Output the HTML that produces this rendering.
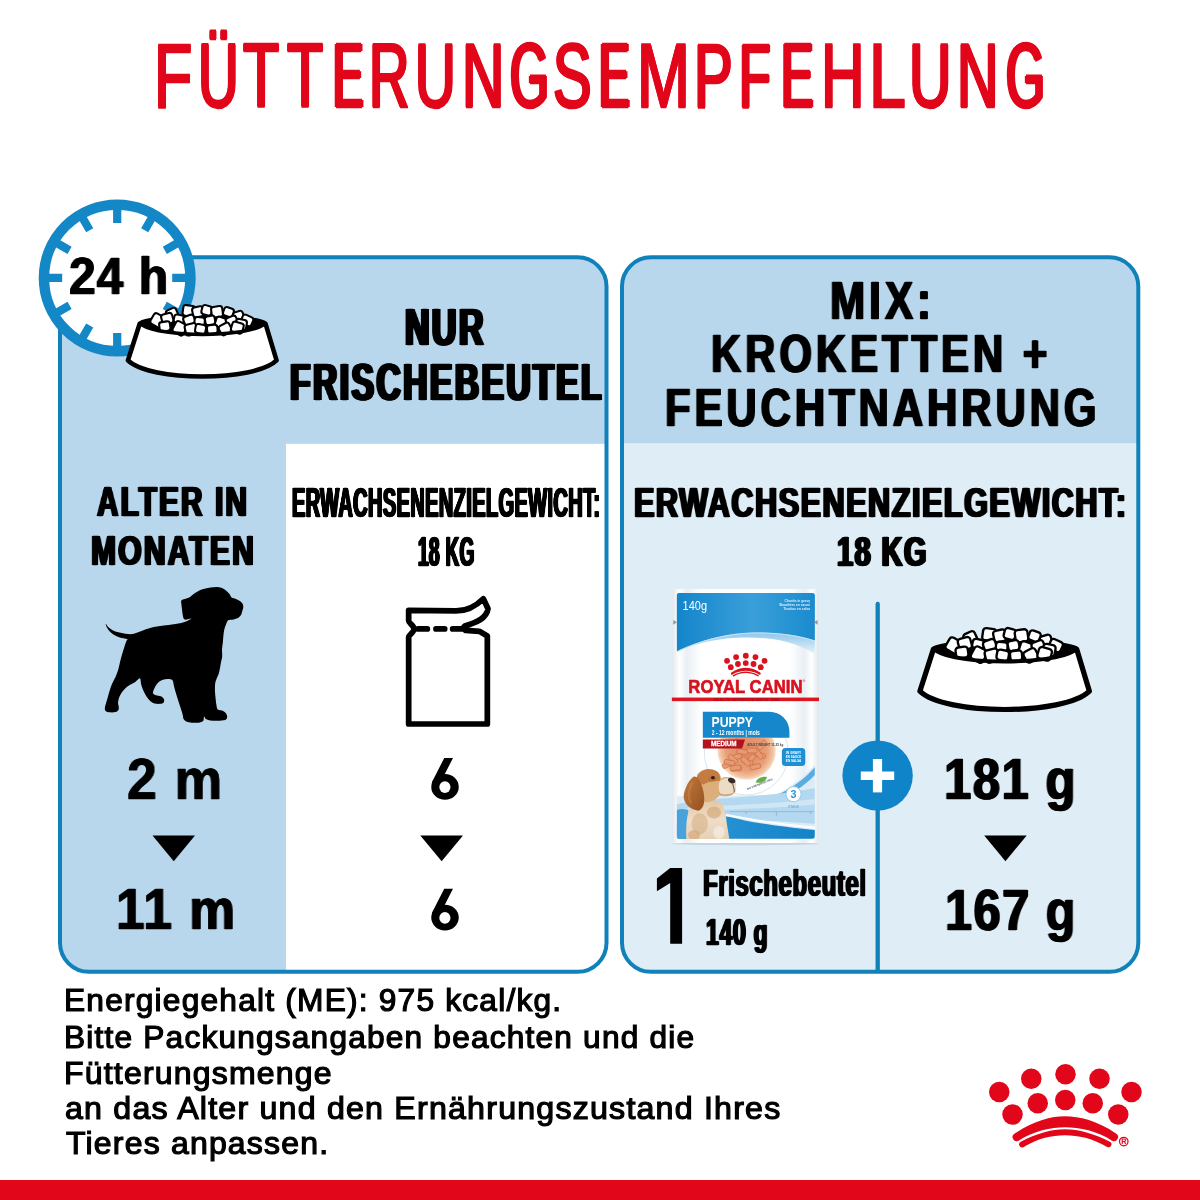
<!DOCTYPE html>
<html lang="de"><head><meta charset="utf-8"><title>Fütterungsempfehlung</title>
<style>
html,body{margin:0;padding:0;background:#fff}
body{width:1200px;height:1200px;position:relative;overflow:hidden;font-family:"Liberation Sans",sans-serif}
svg.bg{position:absolute;left:0;top:0;will-change:transform}
.pl span{position:absolute;top:0;transform-origin:0 0;display:block}
.t{will-change:transform;position:absolute;white-space:nowrap;line-height:1;font-weight:700;transform-origin:0 0;font-family:"Liberation Sans",sans-serif;letter-spacing:0}
</style></head><body>
<svg class="bg" width="1200" height="1200" viewBox="0 0 1200 1200" font-family="Liberation Sans, sans-serif">
<defs><clipPath id="cl"><rect x="60" y="257.3" width="546.5" height="714.5" rx="29"/></clipPath><clipPath id="cr"><rect x="622" y="257.3" width="516.3" height="714.5" rx="29"/></clipPath></defs>
<g clip-path="url(#cl)"><rect x="50" y="250" width="570" height="730" fill="#b8d7ec"/><rect x="286" y="443.8" width="340" height="540" fill="#fff"/></g>
<rect x="60" y="257.3" width="546.5" height="714.5" rx="29" fill="none" stroke="#1081b9" stroke-width="4"/>
<g clip-path="url(#cr)"><rect x="610" y="250" width="540" height="193.6" fill="#b8d7ec"/><rect x="610" y="443.6" width="540" height="540" fill="#dfedf6"/></g>
<rect x="622" y="257.3" width="516.3" height="714.5" rx="29" fill="none" stroke="#1081b9" stroke-width="4"/>
<path d="M877.7,603.9V971" stroke="#1081b9" stroke-width="4.3" stroke-linecap="round"/>
<circle cx="877.6" cy="775.6" r="35.2" fill="#0f84c8"/>
<path d="M877.5,759v33.4" stroke="#fff" stroke-width="9.2" fill="none"/><path d="M860.8,775.8h33.4" stroke="#fff" stroke-width="8.4" fill="none"/>
<circle cx="117.2" cy="277.9" r="73.25" fill="#fff" stroke="#1488c6" stroke-width="10.5"/>
<path d="M117.20,208.90L117.20,222.90M151.70,218.14L144.70,230.27M176.96,243.40L164.83,250.40M186.20,277.90L172.20,277.90M176.96,312.40L164.83,305.40M151.70,337.66L144.70,325.53M117.20,346.90L117.20,332.90M82.70,337.66L89.70,325.53M57.44,312.40L69.57,305.40M48.20,277.90L62.20,277.90M57.44,243.40L69.57,250.40M82.70,218.14L89.70,230.27" stroke="#1488c6" stroke-width="8.2" fill="none"/>
<g transform="translate(0,0) scale(1) translate(110,290) scale(0.15833)" stroke-linejoin="round" stroke-linecap="round"><path d="M188,212 L113,445 C250,580 915,580 1052,445 L982,212 C900,160 270,160 188,212Z" fill="#fff" stroke="#000" stroke-width="29"/><path d="M200,215 C290,165 880,165 970,215 C870,298 300,298 200,215Z" fill="#000"/><rect x="-34.2" y="-31.5" width="68.3" height="62.9" rx="17" transform="translate(392,150) rotate(-25)" fill="#fff" stroke="#000" stroke-width="13"/><rect x="-37.5" y="-33.9" width="74.9" height="67.7" rx="17" transform="translate(498,132) rotate(8)" fill="#fff" stroke="#000" stroke-width="13"/><rect x="-34.6" y="-32.0" width="69.1" height="64.0" rx="17" transform="translate(556,138) rotate(-12)" fill="#fff" stroke="#000" stroke-width="13"/><rect x="-32.3" y="-29.5" width="64.6" height="58.9" rx="17" transform="translate(612,128) rotate(15)" fill="#fff" stroke="#000" stroke-width="13"/><rect x="-35.4" y="-34.1" width="70.8" height="68.2" rx="17" transform="translate(676,138) rotate(-8)" fill="#fff" stroke="#000" stroke-width="13"/><rect x="-31.7" y="-27.7" width="63.3" height="55.4" rx="17" transform="translate(748,140) rotate(20)" fill="#fff" stroke="#000" stroke-width="13"/><rect x="-31.6" y="-30.6" width="63.3" height="61.1" rx="17" transform="translate(812,166) rotate(-18)" fill="#fff" stroke="#000" stroke-width="13"/><rect x="-35.9" y="-29.7" width="71.7" height="59.3" rx="17" transform="translate(866,192) rotate(25)" fill="#fff" stroke="#000" stroke-width="13"/><rect x="-37.9" y="-37.6" width="75.8" height="75.3" rx="17" transform="translate(300,192) rotate(30)" fill="#fff" stroke="#000" stroke-width="13"/><rect x="-35.6" y="-33.1" width="71.2" height="66.2" rx="17" transform="translate(362,182) rotate(-15)" fill="#fff" stroke="#000" stroke-width="13"/><rect x="-32.1" y="-26.4" width="64.2" height="52.8" rx="17" transform="translate(436,184) rotate(12)" fill="#fff" stroke="#000" stroke-width="13"/><rect x="-34.7" y="-28.8" width="69.4" height="57.6" rx="17" transform="translate(500,190) rotate(-20)" fill="#fff" stroke="#000" stroke-width="13"/><rect x="-32.3" y="-27.9" width="64.7" height="55.8" rx="17" transform="translate(566,200) rotate(5)" fill="#fff" stroke="#000" stroke-width="13"/><rect x="-31.2" y="-28.2" width="62.4" height="56.4" rx="17" transform="translate(632,192) rotate(-10)" fill="#fff" stroke="#000" stroke-width="13"/><rect x="-34.1" y="-33.1" width="68.2" height="66.2" rx="17" transform="translate(700,206) rotate(18)" fill="#fff" stroke="#000" stroke-width="13"/><rect x="-34.6" y="-32.4" width="69.3" height="64.8" rx="17" transform="translate(770,200) rotate(-22)" fill="#fff" stroke="#000" stroke-width="13"/><rect x="-34.5" y="-32.4" width="69.0" height="64.8" rx="17" transform="translate(828,218) rotate(10)" fill="#fff" stroke="#000" stroke-width="13"/><rect x="-34.2" y="-29.8" width="68.4" height="59.5" rx="17" transform="translate(346,230) rotate(-8)" fill="#fff" stroke="#000" stroke-width="13"/><rect x="-38.0" y="-38.0" width="76.0" height="75.9" rx="17" transform="translate(440,242) rotate(28)" fill="#fff" stroke="#000" stroke-width="13"/><rect x="-36.9" y="-34.9" width="73.8" height="69.9" rx="17" transform="translate(512,248) rotate(-14)" fill="#fff" stroke="#000" stroke-width="13"/><rect x="-33.2" y="-28.6" width="66.4" height="57.2" rx="17" transform="translate(572,246) rotate(10)" fill="#fff" stroke="#000" stroke-width="13"/><rect x="-33.0" y="-27.5" width="66.0" height="55.0" rx="17" transform="translate(646,248) rotate(-5)" fill="#fff" stroke="#000" stroke-width="13"/><rect x="-36.4" y="-32.4" width="72.7" height="64.9" rx="17" transform="translate(728,246) rotate(-28)" fill="#fff" stroke="#000" stroke-width="13"/><rect x="-36.9" y="-32.8" width="73.9" height="65.7" rx="17" transform="translate(804,238) rotate(16)" fill="#fff" stroke="#000" stroke-width="13"/><path d="M205,222 C330,300 840,300 965,222" fill="none" stroke="#000" stroke-width="22"/></g>
<g transform="translate(774.1,280.3) scale(1.14) translate(110,290) scale(0.15833)" stroke-linejoin="round" stroke-linecap="round"><path d="M188,212 L113,445 C250,580 915,580 1052,445 L982,212 C900,160 270,160 188,212Z" fill="#fff" stroke="#000" stroke-width="29"/><path d="M200,215 C290,165 880,165 970,215 C870,298 300,298 200,215Z" fill="#000"/><rect x="-34.2" y="-31.5" width="68.3" height="62.9" rx="17" transform="translate(392,150) rotate(-25)" fill="#fff" stroke="#000" stroke-width="13"/><rect x="-37.5" y="-33.9" width="74.9" height="67.7" rx="17" transform="translate(498,132) rotate(8)" fill="#fff" stroke="#000" stroke-width="13"/><rect x="-34.6" y="-32.0" width="69.1" height="64.0" rx="17" transform="translate(556,138) rotate(-12)" fill="#fff" stroke="#000" stroke-width="13"/><rect x="-32.3" y="-29.5" width="64.6" height="58.9" rx="17" transform="translate(612,128) rotate(15)" fill="#fff" stroke="#000" stroke-width="13"/><rect x="-35.4" y="-34.1" width="70.8" height="68.2" rx="17" transform="translate(676,138) rotate(-8)" fill="#fff" stroke="#000" stroke-width="13"/><rect x="-31.7" y="-27.7" width="63.3" height="55.4" rx="17" transform="translate(748,140) rotate(20)" fill="#fff" stroke="#000" stroke-width="13"/><rect x="-31.6" y="-30.6" width="63.3" height="61.1" rx="17" transform="translate(812,166) rotate(-18)" fill="#fff" stroke="#000" stroke-width="13"/><rect x="-35.9" y="-29.7" width="71.7" height="59.3" rx="17" transform="translate(866,192) rotate(25)" fill="#fff" stroke="#000" stroke-width="13"/><rect x="-37.9" y="-37.6" width="75.8" height="75.3" rx="17" transform="translate(300,192) rotate(30)" fill="#fff" stroke="#000" stroke-width="13"/><rect x="-35.6" y="-33.1" width="71.2" height="66.2" rx="17" transform="translate(362,182) rotate(-15)" fill="#fff" stroke="#000" stroke-width="13"/><rect x="-32.1" y="-26.4" width="64.2" height="52.8" rx="17" transform="translate(436,184) rotate(12)" fill="#fff" stroke="#000" stroke-width="13"/><rect x="-34.7" y="-28.8" width="69.4" height="57.6" rx="17" transform="translate(500,190) rotate(-20)" fill="#fff" stroke="#000" stroke-width="13"/><rect x="-32.3" y="-27.9" width="64.7" height="55.8" rx="17" transform="translate(566,200) rotate(5)" fill="#fff" stroke="#000" stroke-width="13"/><rect x="-31.2" y="-28.2" width="62.4" height="56.4" rx="17" transform="translate(632,192) rotate(-10)" fill="#fff" stroke="#000" stroke-width="13"/><rect x="-34.1" y="-33.1" width="68.2" height="66.2" rx="17" transform="translate(700,206) rotate(18)" fill="#fff" stroke="#000" stroke-width="13"/><rect x="-34.6" y="-32.4" width="69.3" height="64.8" rx="17" transform="translate(770,200) rotate(-22)" fill="#fff" stroke="#000" stroke-width="13"/><rect x="-34.5" y="-32.4" width="69.0" height="64.8" rx="17" transform="translate(828,218) rotate(10)" fill="#fff" stroke="#000" stroke-width="13"/><rect x="-34.2" y="-29.8" width="68.4" height="59.5" rx="17" transform="translate(346,230) rotate(-8)" fill="#fff" stroke="#000" stroke-width="13"/><rect x="-38.0" y="-38.0" width="76.0" height="75.9" rx="17" transform="translate(440,242) rotate(28)" fill="#fff" stroke="#000" stroke-width="13"/><rect x="-36.9" y="-34.9" width="73.8" height="69.9" rx="17" transform="translate(512,248) rotate(-14)" fill="#fff" stroke="#000" stroke-width="13"/><rect x="-33.2" y="-28.6" width="66.4" height="57.2" rx="17" transform="translate(572,246) rotate(10)" fill="#fff" stroke="#000" stroke-width="13"/><rect x="-33.0" y="-27.5" width="66.0" height="55.0" rx="17" transform="translate(646,248) rotate(-5)" fill="#fff" stroke="#000" stroke-width="13"/><rect x="-36.4" y="-32.4" width="72.7" height="64.9" rx="17" transform="translate(728,246) rotate(-28)" fill="#fff" stroke="#000" stroke-width="13"/><rect x="-36.9" y="-32.8" width="73.9" height="65.7" rx="17" transform="translate(804,238) rotate(16)" fill="#fff" stroke="#000" stroke-width="13"/><path d="M205,222 C330,300 840,300 965,222" fill="none" stroke="#000" stroke-width="22"/></g>
<path transform="translate(90,570) scale(0.14166)" d="M112.0,380.0C114.3,381.2 122.0,397.5 130.0,405.0C138.0,412.5 148.3,419.2 160.0,425.0C171.7,430.8 185.0,435.8 200.0,440.0C215.0,444.2 233.3,448.0 250.0,450.0C266.7,452.0 285.0,453.7 300.0,452.0C315.0,450.3 325.0,445.3 340.0,440.0C355.0,434.7 371.7,426.2 390.0,420.0C408.3,413.8 428.3,407.7 450.0,403.0C471.7,398.3 496.7,395.3 520.0,392.0C543.3,388.7 568.3,386.3 590.0,383.0C611.7,379.7 633.3,376.2 650.0,372.0C666.7,367.8 679.2,363.0 690.0,358.0C700.8,353.0 718.7,343.3 715.0,342.0C711.3,340.7 678.0,353.7 668.0,350.0C658.0,346.3 658.0,331.7 655.0,320.0C652.0,308.3 651.7,293.3 650.0,280.0C648.3,266.7 645.8,250.8 645.0,240.0C644.2,229.2 640.8,220.8 645.0,215.0C649.2,209.2 660.8,208.3 670.0,205.0C679.2,201.7 690.8,200.0 700.0,195.0C709.2,190.0 715.0,182.2 725.0,175.0C735.0,167.8 747.5,158.7 760.0,152.0C772.5,145.3 785.0,139.7 800.0,135.0C815.0,130.3 833.3,126.5 850.0,124.0C866.7,121.5 885.8,119.3 900.0,120.0C914.2,120.7 925.0,123.8 935.0,128.0C945.0,132.2 951.7,138.0 960.0,145.0C968.3,152.0 978.3,161.7 985.0,170.0C991.7,178.3 992.5,189.2 1000.0,195.0C1007.5,200.8 1020.0,200.8 1030.0,205.0C1040.0,209.2 1052.0,214.2 1060.0,220.0C1068.0,225.8 1074.3,232.5 1078.0,240.0C1081.7,247.5 1082.5,256.7 1082.0,265.0C1081.5,273.3 1077.3,281.7 1075.0,290.0C1072.7,298.3 1072.2,307.5 1068.0,315.0C1063.8,322.5 1058.0,329.7 1050.0,335.0C1042.0,340.3 1030.0,344.2 1020.0,347.0C1010.0,349.8 998.0,350.2 990.0,352.0C982.0,353.8 977.0,352.5 972.0,358.0C967.0,363.5 964.0,374.7 960.0,385.0C956.0,395.3 951.0,407.5 948.0,420.0C945.0,432.5 943.7,445.0 942.0,460.0C940.3,475.0 939.7,493.3 938.0,510.0C936.3,526.7 932.8,543.3 932.0,560.0C931.2,576.7 934.2,595.0 933.0,610.0C931.8,625.0 927.5,636.7 925.0,650.0C922.5,663.3 920.8,675.8 918.0,690.0C915.2,704.2 912.2,721.7 908.0,735.0C903.8,748.3 897.0,759.2 893.0,770.0C889.0,780.8 885.8,786.7 884.0,800.0C882.2,813.3 881.7,833.3 882.0,850.0C882.3,866.7 884.3,883.3 886.0,900.0C887.7,916.7 889.3,935.8 892.0,950.0C894.7,964.2 894.0,977.5 902.0,985.0C910.0,992.5 930.0,990.0 940.0,995.0C950.0,1000.0 957.3,1007.5 962.0,1015.0C966.7,1022.5 969.2,1032.8 968.0,1040.0C966.8,1047.2 966.3,1054.0 955.0,1058.0C943.7,1062.0 917.5,1063.3 900.0,1064.0C882.5,1064.7 863.7,1064.0 850.0,1062.0C836.3,1060.0 825.3,1056.5 818.0,1052.0C810.7,1047.5 808.5,1036.2 806.0,1035.0C803.5,1033.8 804.0,1040.0 803.0,1045.0C802.0,1050.0 804.7,1059.8 800.0,1065.0C795.3,1070.2 788.3,1073.8 775.0,1076.0C761.7,1078.2 735.8,1079.0 720.0,1078.0C704.2,1077.0 690.0,1074.7 680.0,1070.0C670.0,1065.3 664.2,1057.5 660.0,1050.0C655.8,1042.5 658.3,1037.5 655.0,1025.0C651.7,1012.5 645.5,992.5 640.0,975.0C634.5,957.5 627.8,938.3 622.0,920.0C616.2,901.7 610.0,882.5 605.0,865.0C600.0,847.5 595.8,829.5 592.0,815.0C588.2,800.5 589.0,785.5 582.0,778.0C575.0,770.5 561.2,770.5 550.0,770.0C538.8,769.5 525.8,771.7 515.0,775.0C504.2,778.3 493.3,783.3 485.0,790.0C476.7,796.7 470.8,805.8 465.0,815.0C459.2,824.2 453.3,835.8 450.0,845.0C446.7,854.2 442.5,863.5 445.0,870.0C447.5,876.5 455.8,880.3 465.0,884.0C474.2,887.7 490.5,887.3 500.0,892.0C509.5,896.7 518.7,904.8 522.0,912.0C525.3,919.2 524.5,929.5 520.0,935.0C515.5,940.5 505.8,943.8 495.0,945.0C484.2,946.2 466.7,945.3 455.0,942.0C443.3,938.7 434.2,932.8 425.0,925.0C415.8,917.2 407.8,906.7 400.0,895.0C392.2,883.3 384.3,869.2 378.0,855.0C371.7,840.8 366.3,825.0 362.0,810.0C357.7,795.0 359.0,768.3 352.0,765.0C345.0,761.7 332.8,781.7 320.0,790.0C307.2,798.3 289.2,805.0 275.0,815.0C260.8,825.0 245.8,837.5 235.0,850.0C224.2,862.5 216.2,875.8 210.0,890.0C203.8,904.2 199.2,922.5 198.0,935.0C196.8,947.5 202.7,955.8 203.0,965.0C203.3,974.2 203.8,983.7 200.0,990.0C196.2,996.3 190.0,1000.5 180.0,1003.0C170.0,1005.5 151.7,1006.3 140.0,1005.0C128.3,1003.7 115.8,1000.0 110.0,995.0C104.2,990.0 104.7,983.3 105.0,975.0C105.3,966.7 108.7,957.5 112.0,945.0C115.3,932.5 120.7,915.0 125.0,900.0C129.3,885.0 133.0,870.8 138.0,855.0C143.0,839.2 148.0,821.7 155.0,805.0C162.0,788.3 172.5,772.5 180.0,755.0C187.5,737.5 194.7,717.5 200.0,700.0C205.3,682.5 207.8,666.7 212.0,650.0C216.2,633.3 220.0,617.5 225.0,600.0C230.0,582.5 236.5,561.7 242.0,545.0C247.5,528.3 254.0,508.8 258.0,500.0C262.0,491.2 268.2,494.7 266.0,492.0C263.8,489.3 255.2,487.0 245.0,484.0C234.8,481.0 218.3,478.8 205.0,474.0C191.7,469.2 176.7,462.7 165.0,455.0C153.3,447.3 143.2,437.5 135.0,428.0C126.8,418.5 119.8,406.0 116.0,398.0C112.2,390.0 109.7,378.8 112.0,380.0Z" fill="#000"/>
<g transform="translate(380,580) scale(0.13333)" fill="none" stroke="#000" stroke-width="43" stroke-linejoin="round" stroke-linecap="round"><path d="M215,1080 L215,430 C215,410 255,395 255,368 C255,340 215,325 215,305 L215,228 L570,232 C650,232 720,195 775,140 L810,215 C800,290 720,322 635,345 C625,350 625,365 640,378 L745,385 L805,420 L805,1080Z" fill="#fff"/><path d="M285,367H355M420,367H485M545,367H615"/></g>
<path d="M152.5,835.5H195L173.75,861.3Z" fill="#000"/>
<path d="M420.3,835.5H463L441.65,861.3Z" fill="#000"/>
<path d="M984.2,835.5H1026.7L1005.45,861.3Z" fill="#000"/>
<g transform="translate(0,0)" role="img" aria-label="6"><title>6</title><path d="M444.25,758H453L444.3,775L446,790L432.0,782Z" fill="#000"/><ellipse cx="445" cy="786.9" rx="13.75" ry="12.9" fill="#000"/><ellipse cx="444.9" cy="787.1" rx="5.6" ry="5.9" fill="#fff"/></g>
<g transform="translate(0,130.7)" role="img" aria-label="6"><title>6</title><path d="M444.25,758H453L444.3,775L446,790L432.0,782Z" fill="#000"/><ellipse cx="445" cy="786.9" rx="13.75" ry="12.9" fill="#000"/><ellipse cx="444.9" cy="787.1" rx="5.6" ry="5.9" fill="#fff"/></g>
<g role="img" aria-label="1"><title>1</title><path d="M670.2,867.9H682.1V943.8H670.2V883L656.9,891.3V878.6Z" fill="#000"/></g>
<g transform="translate(900,1000) scale(0.25)" fill="#e2061a"><circle cx="525" cy="315" r="41"/><circle cx="662" cy="297" r="41"/><circle cx="798" cy="315" r="41"/><circle cx="397" cy="368" r="41"/><circle cx="926" cy="368" r="41"/><circle cx="450" cy="458" r="41"/><circle cx="551" cy="413" r="41"/><circle cx="661" cy="400" r="41"/><circle cx="771" cy="413" r="41"/><circle cx="873" cy="458" r="41"/><path d="M 458.8,534.3 C 535.3,483.3 603.3,465.2 660.0,465.2 C 716.6,465.2 790.3,483.3 863.9,534.3 A15.3,15.3 0 0 1 848.1,562.6 C 790.3,524.1 716.6,508.8 660.0,508.8 C 603.3,508.8 535.3,524.1 474.1,562.6 A15.3,15.3 0 0 1 458.8,534.3 Z"/><path d="M 483.2,567.2 C 546.6,534.3 603.3,517.3 660.0,517.3 C 716.6,517.3 773.3,534.3 839.6,567.2 A10.8,10.8 0 0 1 828.8,587.6 C 773.3,555.8 716.6,541.1 660.0,541.1 C 603.3,541.1 546.6,555.8 493.9,588.7 A10.8,10.8 0 0 1 483.2,567.2 Z"/><circle cx="895" cy="566" r="17" fill="none" stroke="#e2061a" stroke-width="5"/><path d="M889,576V556H897C904,556 904,566 897,566H889M897,566L903,576" fill="none" stroke="#e2061a" stroke-width="4.5"/></g>
<rect x="0" y="1180" width="1200" height="20" fill="#e2061a"/>
<defs><linearGradient id="pgTop" x1="0" y1="0" x2="1" y2="0"><stop offset="0" stop-color="#1485cb"/><stop offset="0.55" stop-color="#3a9fd9"/><stop offset="1" stop-color="#1a8bce"/></linearGradient><linearGradient id="pgSilver" x1="0" y1="0" x2="1" y2="0"><stop offset="0" stop-color="#dfe7ee"/><stop offset="0.05" stop-color="#ffffff"/><stop offset="0.10" stop-color="#e9eff4"/><stop offset="0.2" stop-color="#ffffff"/><stop offset="0.8" stop-color="#ffffff"/><stop offset="0.9" stop-color="#e9eff4"/><stop offset="0.95" stop-color="#ffffff"/><stop offset="1" stop-color="#dfe7ee"/></linearGradient><radialGradient id="pgFood" cx="0.5" cy="0.5" r="0.5"><stop offset="0" stop-color="#dd8558"/><stop offset="0.7" stop-color="#e89f78"/><stop offset="0.9" stop-color="#f1c29f"/><stop offset="1" stop-color="#f8e0ca"/></radialGradient><linearGradient id="pgFade" x1="0" y1="0" x2="0" y2="1"><stop offset="0" stop-color="#2e97d6"/><stop offset="0.7" stop-color="#9ccdec"/><stop offset="1" stop-color="#eaf4fb"/></linearGradient><linearGradient id="pgBot" x1="0" y1="0" x2="1" y2="0"><stop offset="0" stop-color="#2f98d6"/><stop offset="1" stop-color="#1383c8"/></linearGradient><clipPath id="pcBody"><rect x="50" y="65" width="1070" height="1848" rx="26"/></clipPath><clipPath id="pcPrint"><rect x="85" y="95" width="1005" height="1788" rx="22"/></clipPath><clipPath id="pcCirc"><circle cx="592" cy="1257.7" r="300"/></clipPath><clipPath id="pcFood"><rect x="275" y="1147.7" width="700" height="500"/></clipPath></defs><g transform="translate(665,580) scale(0.13750)" font-family="Liberation Sans, sans-serif"><ellipse cx="585" cy="1918.7" rx="540" ry="10" fill="#b4c3ce" opacity="0.6"/><rect x="50" y="65" width="1070" height="1848" rx="26" fill="url(#pgSilver)"/><g clip-path="url(#pcPrint)"><path d="M85,95H1090V540C1000,480 900,450 780,430C560,400 300,420 85,525Z" fill="url(#pgFade)"/><path d="M85,95H1090V440C950,395 800,380 650,382C450,385 250,440 85,520Z" fill="url(#pgTop)"/><path d="M85,522C250,442 450,388 650,385C800,383 950,398 1090,443" fill="none" stroke="#cfe8f7" stroke-width="7" opacity="0.9"/><path d="M1090,1342.7C1010,1432.7 900,1522.7 800,1562.7L85,1572.7V1882.7H1090Z" fill="#dcecf7"/><path d="M1090,1417.7C1010,1502.7 900,1572.7 810,1600.7L812,1562.7C900,1532.7 1010,1452.7 1090,1362.7Z" fill="#5aace0"/><path d="M85,1632.7C300,1572.7 700,1592.7 1090,1512.7V1772.7C800,1752.7 500,1722.7 85,1772.7Z" fill="#b3d8f0"/><path d="M85,1672.7C300,1632.7 700,1642.7 1090,1592.7V1632.7C700,1672.7 300,1662.7 85,1702.7Z" fill="#cfe6f5"/><path d="M470,1684.7H1085M590,1684.7v18M810,1684.7v30M1060,1684.7v18" stroke="#5d88a8" stroke-width="4" fill="none" opacity="0.7"/><path d="M85,1777.7C300,1722.7 400,1710.7 464,1721.7C600,1757.7 800,1790.7 1090,1817.7V1882.7H85Z" fill="url(#pgBot)"/><path d="M440,1708.7C600,1740.7 850,1777.7 1090,1802.7" stroke="#ffffff" stroke-width="16" fill="none" opacity="0.9"/><path d="M85,1672.7C110,1662.7 140,1662.7 170,1672.7V1884.7H85Z" fill="#4aa2da"/></g><path d="M60,290l28,18l-28,18z" fill="#8e9aa5"/><path d="M1110,290l-28,18l28,18z" fill="#8e9aa5"/><text x="128" y="215" font-size="92" fill="#fff" textLength="178" lengthAdjust="spacingAndGlyphs">140g</text><text x="1055" y="160" font-size="24" fill="#fff" text-anchor="end" font-weight="700" opacity="0.85">Chunks in gravy</text><text x="1055" y="188" font-size="24" fill="#fff" text-anchor="end" font-weight="700" opacity="0.85">Bouchées en sauce</text><text x="1055" y="216" font-size="24" fill="#fff" text-anchor="end" font-weight="700" opacity="0.85">Trocitos en salsa</text><g transform="translate(246.5,398) scale(0.5155)" fill="#d9121f"><circle cx="525" cy="315" r="41"/><circle cx="662" cy="297" r="41"/><circle cx="798" cy="315" r="41"/><circle cx="397" cy="368" r="41"/><circle cx="926" cy="368" r="41"/><circle cx="450" cy="458" r="41"/><circle cx="551" cy="413" r="41"/><circle cx="661" cy="400" r="41"/><circle cx="771" cy="413" r="41"/><circle cx="873" cy="458" r="41"/><path d="M 458.8,534.3 C 535.3,483.3 603.3,465.2 660.0,465.2 C 716.6,465.2 790.3,483.3 863.9,534.3 A15.3,15.3 0 0 1 848.1,562.6 C 790.3,524.1 716.6,508.8 660.0,508.8 C 603.3,508.8 535.3,524.1 474.1,562.6 A15.3,15.3 0 0 1 458.8,534.3 Z"/><path d="M 483.2,567.2 C 546.6,534.3 603.3,517.3 660.0,517.3 C 716.6,517.3 773.3,534.3 839.6,567.2 A10.8,10.8 0 0 1 828.8,587.6 C 773.3,555.8 716.6,541.1 660.0,541.1 C 603.3,541.1 546.6,555.8 493.9,588.7 A10.8,10.8 0 0 1 483.2,567.2 Z"/></g><text x="170" y="820" font-size="138" font-weight="700" fill="#d9121f" stroke="#d9121f" stroke-width="5" stroke-linejoin="round" textLength="830" lengthAdjust="spacingAndGlyphs">ROYAL CANIN</text><circle cx="1010" cy="732" r="7" fill="none" stroke="#d9121f" stroke-width="3"/><rect x="50" y="855" width="1070" height="26" fill="#dd1521"/><text x="592" y="877" font-size="20" font-weight="700" fill="#a30d17" text-anchor="middle" textLength="480" lengthAdjust="spacingAndGlyphs">HEALTH NUTRITION SINCE 1968</text><circle cx="592" cy="1257.7" r="306" fill="#ffffff" stroke="#d3e0ea" stroke-width="6"/><g clip-path="url(#pcCirc)"><g clip-path="url(#pcFood)"><circle cx="594" cy="1240.7" r="212" fill="url(#pgFood)"/><rect x="-38" y="-17" width="76" height="34" rx="9" transform="translate(519,1286) rotate(-16)" fill="#e89a72" stroke="#c96f47" stroke-width="5"/><rect x="-38" y="-17" width="76" height="34" rx="9" transform="translate(625,1302) rotate(-52)" fill="#e89a72" stroke="#c96f47" stroke-width="5"/><rect x="-38" y="-17" width="76" height="34" rx="9" transform="translate(454,1342) rotate(-29)" fill="#e89a72" stroke="#c96f47" stroke-width="5"/><rect x="-38" y="-17" width="76" height="34" rx="9" transform="translate(518,1372) rotate(-4)" fill="#e89a72" stroke="#c96f47" stroke-width="5"/><rect x="-38" y="-17" width="76" height="34" rx="9" transform="translate(693,1273) rotate(17)" fill="#e89a72" stroke="#c96f47" stroke-width="5"/><rect x="-38" y="-17" width="76" height="34" rx="9" transform="translate(494,1303) rotate(44)" fill="#e89a72" stroke="#c96f47" stroke-width="5"/><rect x="-38" y="-17" width="76" height="34" rx="9" transform="translate(602,1324) rotate(21)" fill="#e89a72" stroke="#c96f47" stroke-width="5"/><rect x="-38" y="-17" width="76" height="34" rx="9" transform="translate(469,1327) rotate(11)" fill="#e89a72" stroke="#c96f47" stroke-width="5"/><rect x="-38" y="-17" width="76" height="34" rx="9" transform="translate(537,1189) rotate(44)" fill="#e89a72" stroke="#c96f47" stroke-width="5"/><rect x="-38" y="-17" width="76" height="34" rx="9" transform="translate(587,1319) rotate(45)" fill="#e89a72" stroke="#c96f47" stroke-width="5"/><rect x="-38" y="-17" width="76" height="34" rx="9" transform="translate(657,1358) rotate(-13)" fill="#e89a72" stroke="#c96f47" stroke-width="5"/><rect x="-38" y="-17" width="76" height="34" rx="9" transform="translate(682,1267) rotate(52)" fill="#e89a72" stroke="#c96f47" stroke-width="5"/><rect x="-38" y="-17" width="76" height="34" rx="9" transform="translate(705,1201) rotate(-44)" fill="#e89a72" stroke="#c96f47" stroke-width="5"/><rect x="-38" y="-17" width="76" height="34" rx="9" transform="translate(513,1366) rotate(-8)" fill="#e89a72" stroke="#c96f47" stroke-width="5"/><rect x="-38" y="-17" width="76" height="34" rx="9" transform="translate(632,1240) rotate(1)" fill="#e89a72" stroke="#c96f47" stroke-width="5"/><rect x="-38" y="-17" width="76" height="34" rx="9" transform="translate(562,1249) rotate(10)" fill="#e89a72" stroke="#c96f47" stroke-width="5"/></g></g><path d="M275,957.7H760A145,145 0 0 1 905,1102.7V1147.7H275Z" fill="#1787cb"/><path d="M275,1160.7H582L560,1224.7H275Z" fill="#b3131f"/><text x="334" y="1209.7" font-size="50" font-weight="700" fill="#fff" stroke="#fff" stroke-width="2" textLength="186" lengthAdjust="spacingAndGlyphs">MEDIUM</text><text x="598" y="1207.7" font-size="28" font-weight="700" fill="#3c4650" textLength="262" lengthAdjust="spacingAndGlyphs">ADULT WEIGHT 11-25 kg</text><text x="338" y="1067.7" font-size="102" font-weight="700" fill="#fff" textLength="302" lengthAdjust="spacingAndGlyphs">PUPPY</text><text x="340" y="1129.7" font-size="46" font-weight="700" fill="#fff" textLength="350" lengthAdjust="spacingAndGlyphs">2 - 12 months | mois</text><rect x="850" y="1222.7" width="170" height="130" rx="26" fill="#1e8fd1"/><text x="935" y="1265.7" font-size="22" font-weight="700" fill="#fff" text-anchor="middle" textLength="112" lengthAdjust="spacingAndGlyphs">IN GRAVY</text><text x="935" y="1295.7" font-size="22" font-weight="700" fill="#fff" text-anchor="middle" textLength="112" lengthAdjust="spacingAndGlyphs">EN SAUCE</text><text x="935" y="1325.7" font-size="22" font-weight="700" fill="#fff" text-anchor="middle" textLength="112" lengthAdjust="spacingAndGlyphs">EN SALSA</text><path d="M660,1472.7C670,1437.7 710,1427.7 742,1432.7C735,1462.7 700,1482.7 660,1472.7Z" fill="#63ad4a"/><text transform="translate(600,1527.7) rotate(-22)" font-size="19" font-weight="700" fill="#4b5560" textLength="200" lengthAdjust="spacingAndGlyphs">NO PRESERVATIVES</text><circle cx="935" cy="1557.7" r="55" fill="#ffffff" stroke="#8fc8ec" stroke-width="7"/><text x="935" y="1584.7" font-size="78" font-weight="700" fill="#2b96d6" text-anchor="middle">3</text><text x="935" y="1654.7" font-size="19" font-weight="700" fill="#6fb6e4" text-anchor="middle" textLength="80" lengthAdjust="spacingAndGlyphs">STAGE</text><g clip-path="url(#pcPrint)"><g transform="translate(36.36,1309.1) scale(0.5154)"><defs><linearGradient id="pgEar" x1="0" y1="0" x2="1" y2="1"><stop offset="0" stop-color="#c27a3d"/><stop offset="1" stop-color="#95501f"/></linearGradient><linearGradient id="pgChest" x1="0" y1="0" x2="0" y2="1"><stop offset="0" stop-color="#e2c6a4"/><stop offset="0.5" stop-color="#eeddc9"/><stop offset="1" stop-color="#e6d0b6"/></linearGradient></defs><path d="M232,1130C222,1000 228,850 262,715C300,650 420,600 520,560C600,555 700,575 742,620C772,700 792,800 802,900C815,980 830,1060 838,1130Z" fill="url(#pgChest)"/><ellipse cx="420" cy="900" rx="115" ry="150" fill="#d6ad80" opacity="0.55"/><ellipse cx="620" cy="740" rx="100" ry="85" fill="#cf9f6c" opacity="0.55"/><ellipse cx="340" cy="1060" rx="85" ry="70" fill="#d3a270" opacity="0.6"/><ellipse cx="690" cy="1020" rx="80" ry="90" fill="#f4ebdf" opacity="0.8"/><path d="M380,215C430,130 560,100 660,160C700,185 716,228 722,258C762,238 822,234 872,250C916,266 936,300 931,342C940,400 930,452 890,482C840,512 760,522 700,502C650,562 560,604 480,592C420,520 376,400 380,215Z" fill="#dcae7a"/><path d="M380,235C430,130 560,100 660,160C700,190 714,240 702,292C640,302 560,292 500,332C450,362 415,335 380,300Z" fill="#c47c40"/><path d="M702,300C760,250 850,240 900,270C936,300 936,380 926,432C900,482 800,502 720,482C680,440 680,350 702,300Z" fill="#ecdcc6"/><path d="M690,470C740,500 830,500 890,470" stroke="#b98a5e" stroke-width="14" fill="none" opacity="0.6"/><path d="M818,268C848,240 900,250 921,290C927,322 900,337 870,331C838,322 812,300 818,268Z" fill="#3a2a26"/><path d="M885,335C893,380 912,420 906,458" stroke="#5a4036" stroke-width="13" fill="none"/><ellipse cx="598" cy="262" rx="56" ry="40" fill="#b06f3c" opacity="0.7"/><ellipse cx="606" cy="250" rx="27" ry="23" fill="#2c1f1c"/><path d="M330,235C270,280 200,400 192,520C200,620 280,700 400,716C460,700 492,620 482,520C476,420 440,320 400,262C380,236 350,225 330,235Z" fill="url(#pgEar)"/><path d="M310,330C262,420 250,520 290,600" stroke="#cf8b4e" stroke-width="34" fill="none" opacity="0.45" stroke-linecap="round"/></g></g>
</svg>
<div class="t pl" style="left:147.00px;top:31.18px;font-size:90.04px;color:#e2061a;width:907px;height:90px;font-weight:400;-webkit-text-stroke:2.60px #e2061a;"><span style="left:6.68px;transform:scaleX(0.6959);text-shadow:1.36px 0 0 #e2061a,-1.36px 0 0 #e2061a;">F</span><span style="left:50.78px;transform:scaleX(0.6255);text-shadow:2.13px 0 0 #e2061a,-2.13px 0 0 #e2061a;">Ü</span><span style="left:96.18px;transform:scaleX(0.6582);text-shadow:1.75px 0 0 #e2061a,-1.75px 0 0 #e2061a;">T</span><span style="left:139.93px;transform:scaleX(0.6582);text-shadow:1.75px 0 0 #e2061a,-1.75px 0 0 #e2061a;">T</span><span style="left:185.63px;transform:scaleX(0.5060);text-shadow:3.92px 0 0 #e2061a,-3.92px 0 0 #e2061a;">E</span><span style="left:221.79px;transform:scaleX(0.6220);text-shadow:2.17px 0 0 #e2061a,-2.17px 0 0 #e2061a;">R</span><span style="left:268.28px;transform:scaleX(0.6255);text-shadow:2.13px 0 0 #e2061a,-2.13px 0 0 #e2061a;">U</span><span style="left:314.70px;transform:scaleX(0.6509);text-shadow:1.83px 0 0 #e2061a,-1.83px 0 0 #e2061a;">N</span><span style="left:362.94px;transform:scaleX(0.5553);text-shadow:3.09px 0 0 #e2061a,-3.09px 0 0 #e2061a;">G</span><span style="left:406.23px;transform:scaleX(0.6412);text-shadow:1.94px 0 0 #e2061a,-1.94px 0 0 #e2061a;">S</span><span style="left:451.81px;transform:scaleX(0.5121);text-shadow:3.81px 0 0 #e2061a,-3.81px 0 0 #e2061a;">E</span><span style="left:489.58px;transform:scaleX(0.7050);text-shadow:1.27px 0 0 #e2061a,-1.27px 0 0 #e2061a;">M</span><span style="left:546.54px;transform:scaleX(0.6437);text-shadow:1.92px 0 0 #e2061a,-1.92px 0 0 #e2061a;">P</span><span style="left:592.32px;transform:scaleX(0.5764);text-shadow:2.78px 0 0 #e2061a,-2.78px 0 0 #e2061a;">F</span><span style="left:633.71px;transform:scaleX(0.5430);text-shadow:3.28px 0 0 #e2061a,-3.28px 0 0 #e2061a;">E</span><span style="left:673.75px;transform:scaleX(0.6688);text-shadow:1.64px 0 0 #e2061a,-1.64px 0 0 #e2061a;">H</span><span style="left:721.73px;transform:scaleX(0.7351);text-shadow:1.00px 0 0 #e2061a,-1.00px 0 0 #e2061a;">L</span><span style="left:761.71px;transform:scaleX(0.6547);text-shadow:1.79px 0 0 #e2061a,-1.79px 0 0 #e2061a;">U</span><span style="left:810.34px;transform:scaleX(0.6389);text-shadow:1.97px 0 0 #e2061a,-1.97px 0 0 #e2061a;">N</span><span style="left:859.19px;transform:scaleX(0.5553);text-shadow:3.09px 0 0 #e2061a,-3.09px 0 0 #e2061a;">G</span></div>
<div class="t " style="left:68.60px;top:249.85px;font-size:52.04px;transform:scaleX(0.9223);color:#000;letter-spacing:1.08px;-webkit-text-stroke:0.50px #000;text-shadow:0.81px 0 0 #000,-0.81px 0 0 #000;">24 h</div>
<div class="t " style="left:405.47px;top:301.37px;font-size:52.36px;transform:scaleX(0.6445);color:#000;letter-spacing:4.03px;-webkit-text-stroke:0.60px #000;text-shadow:2.72px 0 0 #000,-2.72px 0 0 #000;">NUR</div>
<div class="t " style="left:289.72px;top:355.70px;font-size:52.22px;transform:scaleX(0.6396);color:#000;letter-spacing:4.07px;-webkit-text-stroke:0.60px #000;text-shadow:2.78px 0 0 #000,-2.78px 0 0 #000;">FRISCHEBEUTEL</div>
<div class="t " style="left:830.19px;top:274.01px;font-size:53.38px;transform:scaleX(0.7908);color:#000;letter-spacing:5.06px;-webkit-text-stroke:0.60px #000;text-shadow:1.27px 0 0 #000,-1.27px 0 0 #000;">MIX:</div>
<div class="t " style="left:711.45px;top:328.08px;font-size:52.95px;transform:scaleX(0.7898);color:#000;letter-spacing:5.06px;-webkit-text-stroke:0.60px #000;text-shadow:1.31px 0 0 #000,-1.31px 0 0 #000;">KROKETTEN +</div>
<div class="t " style="left:664.95px;top:382.08px;font-size:52.95px;transform:scaleX(0.7901);color:#000;letter-spacing:5.06px;-webkit-text-stroke:0.60px #000;text-shadow:1.31px 0 0 #000,-1.31px 0 0 #000;">FEUCHTNAHRUNG</div>
<div class="t " style="left:97.35px;top:480.13px;font-size:43.20px;transform:scaleX(0.6865);color:#000;letter-spacing:3.20px;-webkit-text-stroke:0.30px #000;text-shadow:1.87px 0 0 #000,-1.87px 0 0 #000;">ALTER IN</div>
<div class="t " style="left:91.03px;top:529.33px;font-size:43.20px;transform:scaleX(0.6957);color:#000;letter-spacing:3.16px;-webkit-text-stroke:0.30px #000;text-shadow:1.80px 0 0 #000,-1.80px 0 0 #000;">MONATEN</div>
<div class="t " style="left:291.63px;top:480.55px;font-size:43.05px;transform:scaleX(0.4641);color:#000;letter-spacing:0.86px;-webkit-text-stroke:0.30px #000;text-shadow:1.95px 0 0 #000,-1.95px 0 0 #000;">ERWACHSENENZIELGEWICHT:</div>
<div class="t " style="left:418.17px;top:530.81px;font-size:41.58px;transform:scaleX(0.4549);color:#000;letter-spacing:0.88px;-webkit-text-stroke:0.30px #000;text-shadow:2.16px 0 0 #000,-2.16px 0 0 #000;">18 KG</div>
<div class="t " style="left:634.15px;top:480.80px;font-size:42.76px;transform:scaleX(0.7168);color:#000;letter-spacing:2.09px;-webkit-text-stroke:0.50px #000;text-shadow:1.73px 0 0 #000,-1.73px 0 0 #000;">ERWACHSENENZIELGEWICHT:</div>
<div class="t " style="left:837.04px;top:529.93px;font-size:42.72px;transform:scaleX(0.6756);color:#000;letter-spacing:2.22px;-webkit-text-stroke:0.50px #000;text-shadow:2.03px 0 0 #000,-2.03px 0 0 #000;">18 KG</div>
<div class="t " style="left:127.27px;top:751.78px;font-size:56.49px;transform:scaleX(0.9465);color:#000;letter-spacing:1.58px;-webkit-text-stroke:0.60px #000;text-shadow:0.59px 0 0 #000,-0.59px 0 0 #000;">2 m</div>
<div class="t " style="left:116.46px;top:882.28px;font-size:56.49px;transform:scaleX(0.9116);color:#000;letter-spacing:1.65px;-webkit-text-stroke:0.60px #000;text-shadow:0.78px 0 0 #000,-0.78px 0 0 #000;">11 m</div>
<div class="t " style="left:943.89px;top:751.78px;font-size:56.49px;transform:scaleX(0.8683);color:#000;letter-spacing:1.73px;-webkit-text-stroke:0.60px #000;text-shadow:1.03px 0 0 #000,-1.03px 0 0 #000;">181 g</div>
<div class="t " style="left:944.84px;top:882.22px;font-size:56.92px;transform:scaleX(0.8548);color:#000;letter-spacing:1.75px;-webkit-text-stroke:0.60px #000;text-shadow:1.08px 0 0 #000,-1.08px 0 0 #000;">167 g</div>
<div class="t " style="left:703.45px;top:865.97px;font-size:36.65px;transform:scaleX(0.6594);color:#000;letter-spacing:0.76px;-webkit-text-stroke:0.40px #000;text-shadow:1.43px 0 0 #000,-1.43px 0 0 #000;">Frischebeutel</div>
<div class="t " style="left:705.75px;top:915.42px;font-size:36.13px;transform:scaleX(0.6316);color:#000;letter-spacing:1.27px;-webkit-text-stroke:0.40px #000;text-shadow:1.66px 0 0 #000,-1.66px 0 0 #000;">140 g</div>
<div class="t " style="left:63.99px;top:985.36px;font-size:31.71px;transform:scaleX(0.9990);color:#000;font-weight:400;letter-spacing:1.20px;-webkit-text-stroke:1.20px #000;">Energiegehalt (ME): 975 kcal/kg.</div>
<div class="t " style="left:64.00px;top:1021.67px;font-size:30.98px;transform:scaleX(1.0218);color:#000;font-weight:400;letter-spacing:1.17px;-webkit-text-stroke:1.20px #000;">Bitte Packungsangaben beachten und die</div>
<div class="t " style="left:63.98px;top:1057.86px;font-size:31.05px;transform:scaleX(1.0311);color:#000;font-weight:400;letter-spacing:1.16px;-webkit-text-stroke:1.20px #000;">Fütterungsmenge</div>
<div class="t " style="left:64.76px;top:1093.17px;font-size:30.98px;transform:scaleX(1.0394);color:#000;font-weight:400;letter-spacing:1.15px;-webkit-text-stroke:1.20px #000;">an das Alter und den Ernährungszustand Ihres</div>
<div class="t " style="left:66.10px;top:1127.92px;font-size:30.98px;transform:scaleX(1.0325);color:#000;font-weight:400;letter-spacing:1.16px;-webkit-text-stroke:1.20px #000;">Tieres anpassen.</div>
</body></html>
